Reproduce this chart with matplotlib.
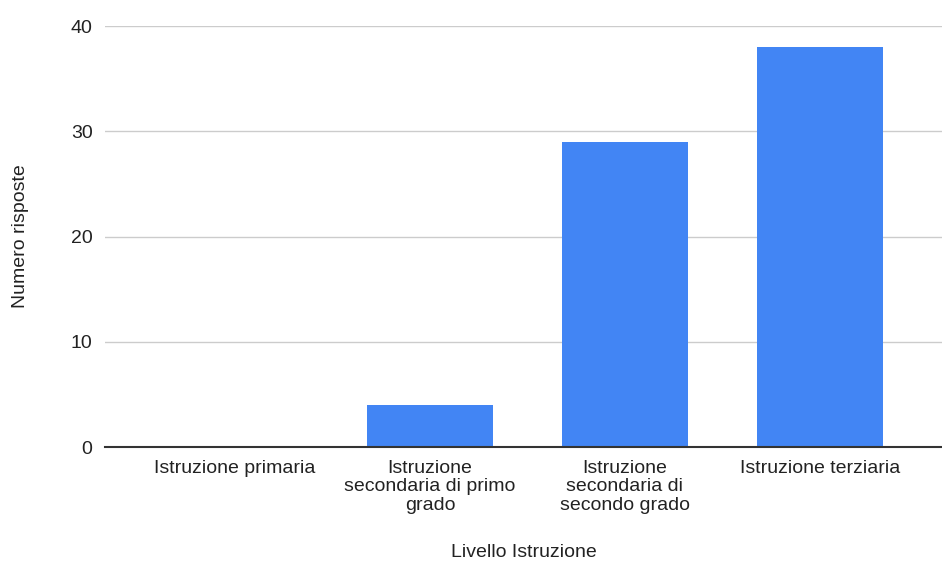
import matplotlib
matplotlib.use("Agg")
import matplotlib.pyplot as plt

plt.rcParams['font.family'] = ['Liberation Sans', 'DejaVu Sans']

categories = [
    "Istruzione primaria",
    "Istruzione\nsecondaria di primo\ngrado",
    "Istruzione\nsecondaria di\nsecondo grado",
    "Istruzione terziaria",
]
risposte = [0, 4, 29, 38]
yticks = [0, 10, 20, 30, 40]

fig = plt.figure(figsize=(9.42, 5.62), dpi=100)
ax = fig.add_axes([0.1115, 0.2046, 0.8885, 0.7491])

x = list(range(len(categories)))
ax.bar(x, risposte, width=0.65, color="#4285f4", zorder=3)

ax.set_xlim(-0.667, 3.626)
ax.set_ylim(0, 40)
ax.set_yticks(yticks)
ax.set_xticks(x)
ax.set_xticklabels(categories, fontsize=14, color="#222222", linespacing=1.15)
ax.tick_params(axis="y", labelsize=14, colors="#222222", length=0, pad=9)
ax.tick_params(axis="x", length=0, pad=9)

ax.grid(axis="y", color="#cccccc", linewidth=1, zorder=0)
for side in ["top", "right", "left"]:
    ax.spines[side].set_visible(False)
ax.spines["bottom"].set_color("#333333")
ax.spines["bottom"].set_linewidth(1.5)
ax.spines["bottom"].set_zorder(4)

ax.set_xlabel("Livello Istruzione", fontsize=14, color="#222222", labelpad=21)
ax.set_ylabel("Numero risposte", fontsize=14, color="#222222", labelpad=30)

fig.savefig("out.png", dpi=100, facecolor="white")
